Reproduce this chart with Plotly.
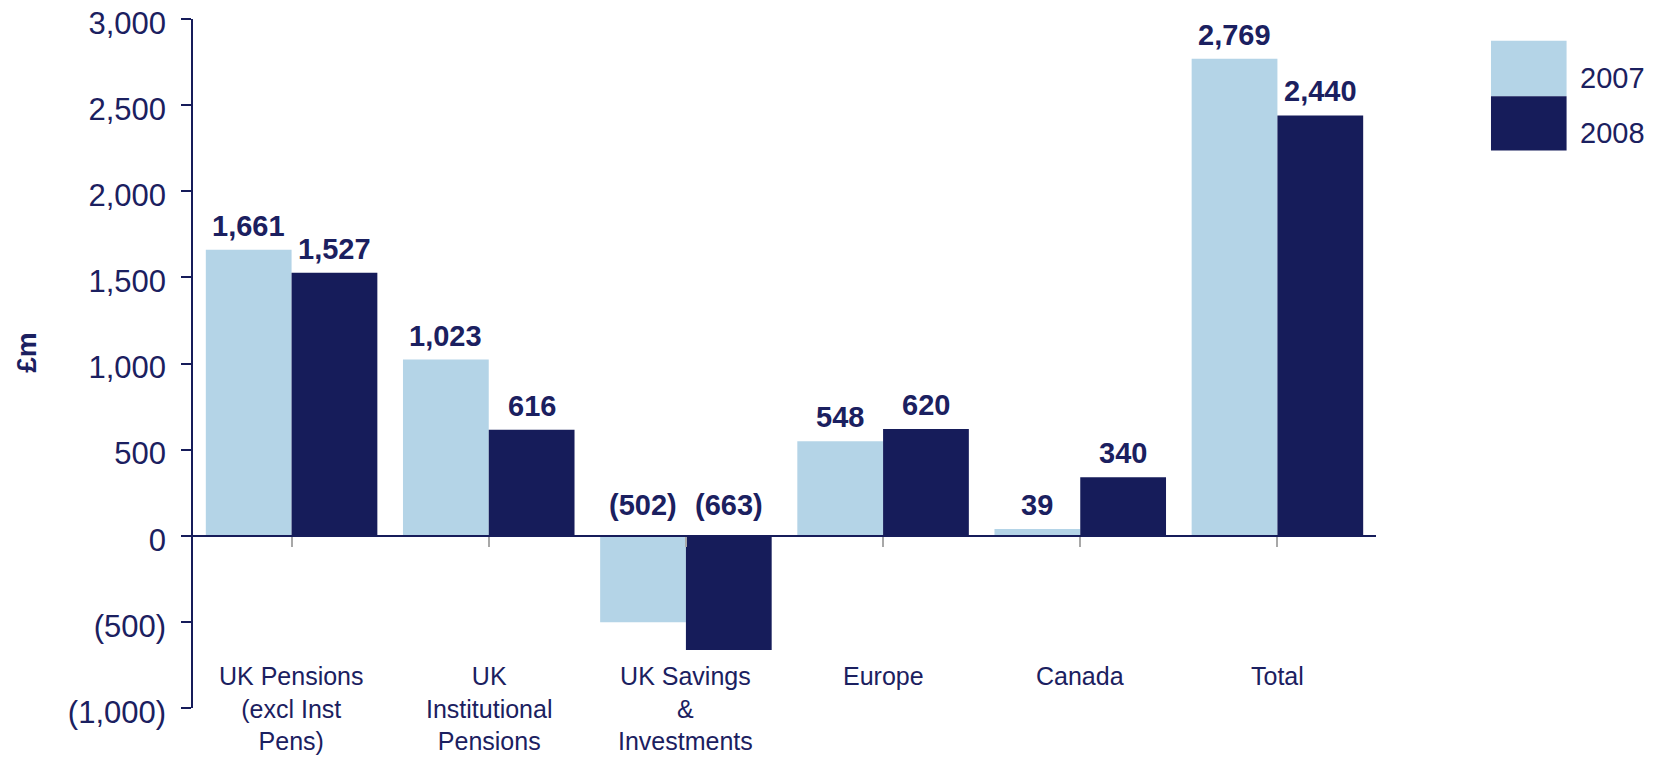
import plotly.graph_objects as go

categories = ["UK Pensions<br>(excl Inst<br>Pens)", "UK<br>Institutional<br>Pensions",
              "UK Savings<br>&<br>Investments", "Europe", "Canada", "Total"]
values_2007 = [1661, 1023, -502, 548, 39, 2769]
values_2008 = [1527, 616, -663, 620, 340, 2440]
series_names = ["2007", "2008"]
y_tick_values = [-1000, -500, 0, 500, 1000, 1500, 2000, 2500, 3000]
y_tick_labels = ["(1,000)", "(500)", "0", "500", "1,000", "1,500", "2,000", "2,500", "3,000"]

LIGHT = "#B4D4E7"
NAVY = "#161C5A"
TEXT = "#1B2060"
FONT = "Liberation Sans, Arial, sans-serif"
BARGAP = 0.13

def fmt(v):
    return f"({abs(v):,})" if v < 0 else f"{v:,}"

idx = list(range(len(categories)))
fig = go.Figure()
fig.add_trace(go.Bar(x=idx, y=values_2007, name=series_names[0], marker=dict(color=LIGHT, line=dict(width=0))))
fig.add_trace(go.Bar(x=idx, y=values_2008, name=series_names[1], marker=dict(color=NAVY, line=dict(width=0))))

annotations = []
half = (1 - BARGAP) / 4.0
for series, off in ((values_2007, -half), (values_2008, half)):
    for i, v in enumerate(series):
        annotations.append(dict(
            x=i + off, y=max(v, 0), xref="x", yref="y", text=f"<b>{fmt(v)}</b>",
            showarrow=False, yanchor="bottom", xanchor="center",
            yshift=6 if v >= 0 else 13,
            font=dict(family=FONT, size=29, color=TEXT)))

for i, c in enumerate(categories):
    annotations.append(dict(
        x=i, y=-722, xref="x", yref="y", text=c, showarrow=False,
        yanchor="top", xanchor="center", align="center",
        font=dict(family=FONT, size=25, color=TEXT)))

# axis title
annotations.append(dict(x=-0.1403, y=0.5156, xref="paper", yref="paper", text="<b>£m</b>",
                        showarrow=False, textangle=-90, xanchor="center", yanchor="middle",
                        font=dict(family=FONT, size=28, color=TEXT)))

# legend
legend_colors = [LIGHT, NAVY]
shapes = []
box_x0, box_x1 = 1.0972, 1.1611
box_ys = [(0.888, 0.9685), (0.8093, 0.888)]
text_ys = [0.9148, 0.8349]
for name, col, (y0, y1), ty in zip(series_names, legend_colors, box_ys, text_ys):
    shapes.append(dict(type="rect", xref="paper", yref="paper", x0=box_x0, x1=box_x1,
                       y0=y0, y1=y1, fillcolor=col, line=dict(width=0)))
    annotations.append(dict(x=1.1708, y=ty, xref="paper", yref="paper", text=name,
                            showarrow=False, xanchor="left", yanchor="middle",
                            font=dict(family=FONT, size=29, color=TEXT)))

fig.update_layout(
    width=1653, height=758,
    margin=dict(l=193, r=277, t=19, b=50, autoexpand=False),
    paper_bgcolor="white", plot_bgcolor="white",
    barmode="group", bargap=BARGAP, bargroupgap=0,
    showlegend=False,
    annotations=annotations, shapes=shapes,
    font=dict(family=FONT, color=TEXT),
    xaxis=dict(
        range=[-0.5, len(categories) - 0.5], automargin=False,
        anchor="free", position=0.25,
        showline=True, linecolor=NAVY, linewidth=1.5,
        ticks="outside", tickson="boundaries", ticklen=10, tickcolor="#A8A8A8", tickwidth=1.5,
        tickvals=idx, showticklabels=False, showgrid=False, zeroline=False),
    yaxis=dict(
        range=[-1000, 3000], tickvals=y_tick_values, ticktext=y_tick_labels, automargin=False,
        showline=True, linecolor=NAVY, linewidth=1.5,
        ticks="outside", ticklen=10, tickcolor=NAVY, tickwidth=1.5,
        ticklabelstandoff=9, ticklabeloverflow="allow", ticklabelshift=4,
        tickfont=dict(family=FONT, size=31, color=TEXT),
        showgrid=False, zeroline=False),
)

fig.write_html("out.html", config={"displayModeBar": False},
               post_script="document.body.style.margin='0px';")
